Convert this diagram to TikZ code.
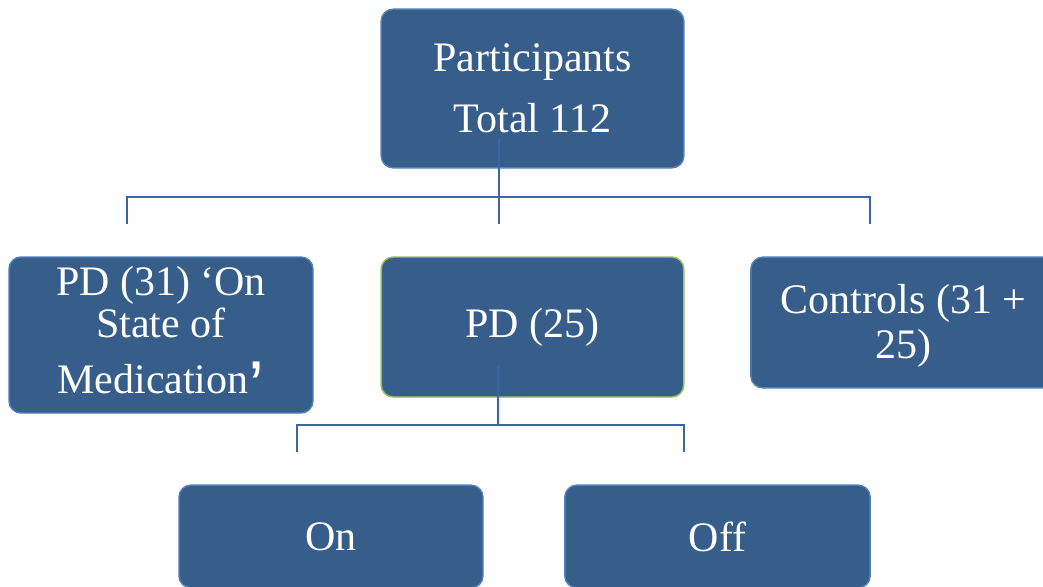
\documentclass[tikz,border=0pt]{standalone}
\usepackage{fontspec}
\setmainfont{Liberation Serif}
\setsansfont{Liberation Sans}
\usepackage{tikz}
\usetikzlibrary{positioning,calc}
\definecolor{boxfill}{HTML}{375D8B}
\definecolor{boxedge}{HTML}{4F81BD}
\definecolor{linkblue}{HTML}{3C64AC}
\definecolor{pdedge}{HTML}{9BC35A}

\begin{document}
\begin{tikzpicture}[x=0.75pt,y=-0.75pt,
    box/.style={draw=boxedge,line width=1.1pt,fill=boxfill,rounded corners=9pt,
      text=white,align=center,inner sep=0pt,
      font=\fontsize{31.5}{32}\selectfont},
    link/.style={draw=linkblue,line width=1.5pt}]
      \useasboundingbox[fill=white] (0,0) rectangle (1043,586);
      \node[box,minimum width=227pt,minimum height=119pt] (participants) at (532.5,88.5)
        {Participants\\[14pt]Total 112};
      \node[box,minimum width=228pt,minimum height=117pt] (pdon) at (161,335)
        {PD (31) ‘On\\State of\\[10pt]Medication\raisebox{-13.5pt}[0pt][7.5pt]{\sffamily\fontsize{54}{54}\selectfont’}};
      \node[box,draw=pdedge,minimum width=227pt,minimum height=105pt] (pd) at (532.5,327) {PD (25)};
      \node[box,minimum width=229pt,minimum height=98pt] (controls) at (903.5,322.5)
        {\rule{0pt}{27pt}Controls (31 +\\[2pt]25)};
      \node[box,minimum width=228pt,minimum height=77pt] (on) at (331,536.5) {On};
      \node[box,minimum width=229pt,minimum height=77pt] (off) at (717.5,536.5) {Off};
      \coordinate (topout) at ([xshift=-25.5pt,yshift=23pt]participants.south);
      \coordinate (pdin) at ([xshift=-25.5pt,yshift=24pt]pd.north);
      \coordinate (pdonin) at ([xshift=-25.5pt,yshift=24pt]pdon.north);
      \coordinate (ctrlin) at ([xshift=-25.5pt,yshift=24pt]controls.north);
      \coordinate (pdout) at ([xshift=-25.5pt,yshift=24pt]pd.south);
      \coordinate (onin) at ([xshift=-25.5pt,yshift=24pt]on.north);
      \coordinate (offin) at ([xshift=-25.5pt,yshift=24pt]off.north);
      \coordinate (bus1) at (498,197);
      \coordinate (bus2) at (498,425);
      \draw[link] (topout) -- (pdin);
      \draw[link] (pdonin) |- (bus1) -| (ctrlin);
      \draw[link] (pdout) -- (bus2);
      \draw[link] (onin) |- (bus2) -| (offin);
    \end{tikzpicture}
\end{document}
